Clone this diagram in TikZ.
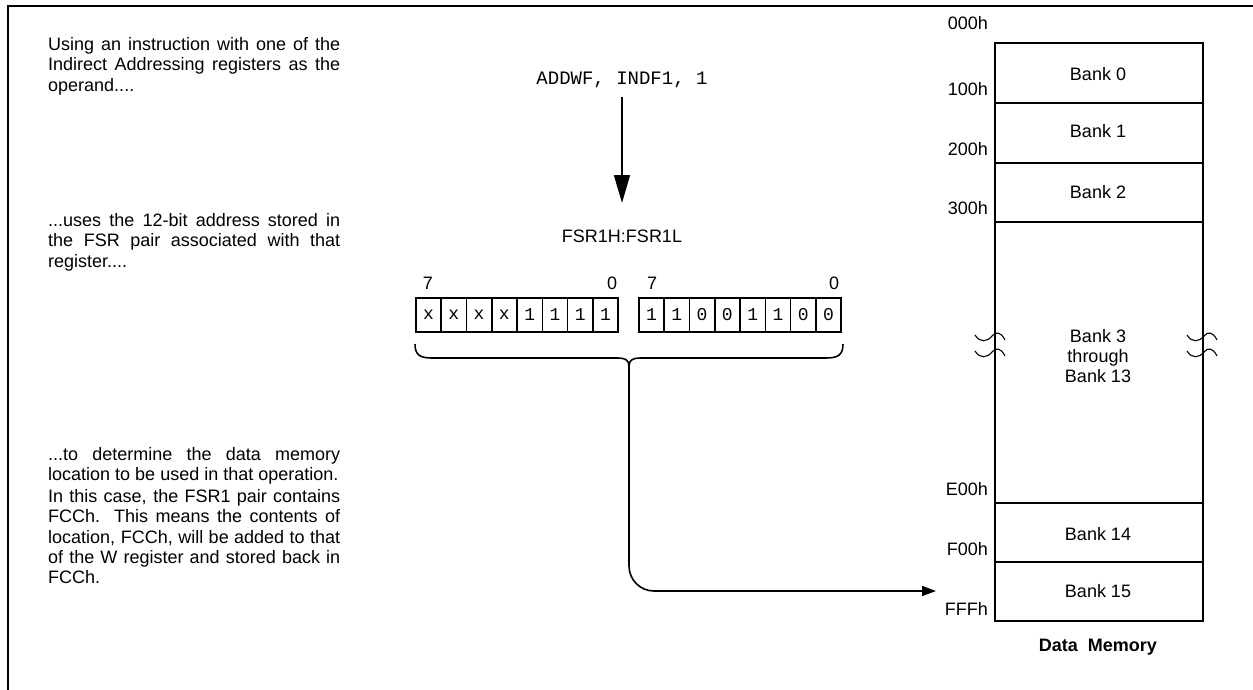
\documentclass[tikz,border=0pt]{standalone}
\usepackage{fontspec}
\setmainfont{Liberation Sans}
\newfontfamily\cour{Liberation Mono}
\usetikzlibrary{arrows.meta}
\newlength\parw
\setlength\parw{292pt}
\newcommand\jl[1]{\makebox[\parw][s]{#1}}
\newcommand\tld[2]{\draw[line width=1.1pt] (#1-15,#2-1) .. controls (#1-10,#2+7) and (#1-3,#2+6) .. (#1+2,#2) .. controls (#1+6,#2-5) and (#1+11,#2-4) .. (#1+15,#2+4);}
\begin{document}
\begin{tikzpicture}[x=1pt,y=-1pt,
  txt/.style={font=\fontsize{18}{20.4}\selectfont, inner sep=0pt},
  para/.style={txt, anchor=north west, align=left},
  addr/.style={txt, anchor=east},
  bank/.style={txt},
  bitbox/.style={draw, line width=1.6pt, minimum width=25.3pt, minimum height=34pt, inner sep=0pt, anchor=north west, font=\cour\fontsize{18}{18}\selectfont},
  memline/.style={line width=2pt},
  conn/.style={line width=1.6pt}]
\useasboundingbox (0,0) rectangle (1253,690);
% frame
\draw[line width=2.7pt] (8,692) -- (8,6) -- (1256,6);
% left texts
\node[para] (t1) at (48,37) {\jl{Using an instruction with one of the}\\ \jl{Indirect Addressing registers as the}\\ operand....};
\node[para] (t2) at (48,213) {\jl{...uses the 12-bit address stored in}\\ \jl{the FSR pair associated with that}\\ register....};
\node[para] (t3) at (48,447) {\jl{...to determine the data memory}\\ location to be used in that operation.};
\node[para] (t4) at (48,489) {\jl{In this case, the FSR1 pair contains}\\ \jl{FCCh. This means the contents of}\\ \jl{location, FCCh, will be added to that}\\ \jl{of the W register and stored back in}\\ FCCh.};
% instruction
\node[txt, font=\cour\fontsize{19}{19}\selectfont] (instr) at (622,80) {ADDWF, INDF1, 1};
\node[txt] (fsr) at (622,236) {FSR1H:FSR1L};
\coordinate (a1) at (622,97);
\coordinate (a2) at (622,203);
\draw[conn, -{Triangle[length=28pt,width=16pt]}] (a1) -- (a2);
% bits
\foreach \v [count=\i from 0] in {x,x,x,x,1,1,1,1} {
  \node[bitbox] (l\i) at (415+25.3*\i,297) {\v};
}
\foreach \v [count=\i from 0] in {1,1,0,0,1,1,0,0} {
  \node[bitbox] (r\i) at (638+25.3*\i,297) {\v};
}
\node[txt] (b7l) at (428,283) {7};
\node[txt] (b0l) at (612,283) {0};
\node[txt] (b7r) at (652,283) {7};
\node[txt] (b0r) at (834,283) {0};
% brace
\coordinate (tip) at (629,366);
\draw[conn] (415,344) .. controls (415,355) and (420,358) .. (432,358) -- (618,358) .. controls (625,358) and (629,360) .. (tip)
  .. controls (629,360) and (633,358) .. (640,358) -- (826,358) .. controls (838,358) and (843,355) .. (843,344);
\coordinate (memin) at (936,591);
\draw[conn, rounded corners=25pt, -{Triangle[length=14pt,width=10pt]}] (tip) |- (memin);
% memory
\draw[memline] (995,43) rectangle (1203,621);
\foreach \y in {103,163,222,503,562} { \draw[memline] (995,\y) -- (1203,\y); }
\node[addr] (m0) at (988,23) {000h};
\node[addr] (m1) at (988,89) {100h};
\node[addr] (m2) at (988,149) {200h};
\node[addr] (m3) at (988,208) {300h};
\node[addr] (me) at (988,489) {E00h};
\node[addr] (mf) at (988,549) {F00h};
\node[addr] (mff) at (988,609) {FFFh};
\node[bank] (k0) at (1098,74) {Bank 0};
\node[bank] (k1) at (1098,131) {Bank 1};
\node[bank] (k2) at (1098,192) {Bank 2};
\node[bank, align=center] (k3) at (1098,356) {Bank 3\\through\\Bank 13};
\node[bank] (k14) at (1098,534) {Bank 14};
\node[bank] (k15) at (1098,591) {Bank 15};
\node[txt, font=\bfseries\fontsize{18}{20.4}\selectfont] (dm) at (1098,647) {Data\ \ Memory};
% break marks
\tld{990}{336}
\tld{990}{352}
\tld{1202}{336}
\tld{1202}{352}
\end{tikzpicture}
\end{document}
